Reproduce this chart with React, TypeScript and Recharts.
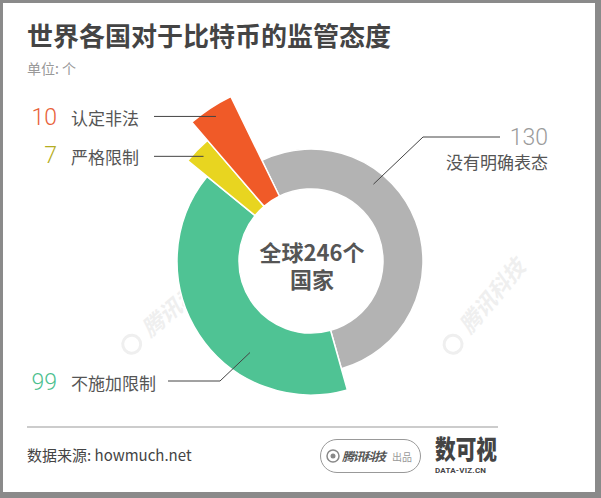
import React from 'react';
import { PieChart, Pie, Cell } from 'recharts';

// ---- data ----
const categories = ['没有明确表态', '不施加限制', '严格限制', '认定非法'];
const counts = [130, 99, 7, 10];
const totalLabel = ['全球246个', '国家'];
const title = '世界各国对于比特币的监管态度';
const unitLabel = '单位: 个';
const sourceLabel = '数据来源: howmuch.net';

const data = categories.map((name, i) => ({ name, value: counts[i] }));

// ---- styles ----
const sliceColors = ['#b3b3b3', '#4fc394', '#e8d520', '#f05a28'];
const numberColors = ['#9b9b9b', '#4dbf8f', '#b5ad22', '#e8613a'];
const outerRadii = [112, 134, 159, 183];
const CX = 311;
const CY = 261;
const INNER = 72;
const START = 116;
const CJK = '"Noto Sans CJK SC", "Noto Sans", sans-serif';
const NUM = 'Roboto, "Noto Sans", sans-serif';

// leader line layout per slice
const leaders: any[] = [
  { shift: 30, fromInner: true, r: 27, pts: [[423, 137], [500, 137]] },
  { shift: 23, fromInner: true, r: 38, pts: [[220, 381], [168, 381]] },
  { shift: 0, fromInner: false, r: 9, endX: 154 },
  { shift: 0, fromInner: false, r: 10, endX: 154 },
];

// label text layout per slice
const labelLayout = [
  { numX: 548, numY: 145, numAnchor: 'end', txtX: 548, txtY: 169, txtAnchor: 'end' },
  { numX: 57, numY: 390, numAnchor: 'end', txtX: 71, txtY: 390, txtAnchor: 'start' },
  { numX: 57, numY: 163, numAnchor: 'end', txtX: 71, txtY: 164, txtAnchor: 'start' },
  { numX: 57, numY: 125, numAnchor: 'end', txtX: 71, txtY: 124.5, txtAnchor: 'start' },
];

const makeLeader = (target: number) => (props: any) => {
  if (props.index !== target) return null;
  const { cx, cy, midAngle, innerRadius, outerRadius } = props;
  const L = leaders[target];
  const a = ((midAngle + L.shift) * Math.PI) / 180;
  const r = L.fromInner ? innerRadius + L.r : outerRadius - L.r;
  const x = cx + r * Math.cos(a);
  const y = cy - r * Math.sin(a);
  const pts = L.pts ? [[x, y], ...L.pts] : [[x, y], [L.endX, y]];
  return (
    <polyline
      key={`leader-${target}`}
      points={pts.map((p: number[]) => p.join(',')).join(' ')}
      fill="none"
      stroke="#444"
      strokeWidth={1}
    />
  );
};

export default function App() {
  return (
    <div style={{ position: 'relative', width: 601, height: 498, background: '#8a8a8a', overflow: 'hidden' }}>
      <style>{`body{margin:0}`}</style>
      <div style={{ position: 'absolute', left: 3, top: 3, width: 592, height: 489, background: '#ffffff' }} />
      <svg
        width={601}
        height={498}
        style={{ position: 'absolute', left: 0, top: 0, pointerEvents: 'none' }}
      >
        <g fill="#efefef" fontFamily={CJK} fontWeight={700} fontStyle="italic">
          <g transform="translate(150 338) rotate(-40)">
            <circle cx={-18} cy={-7} r={9} fill="none" stroke="#efefef" strokeWidth={3} />
            <text x={0} y={0} fontSize={22}>腾讯科技</text>
          </g>
          <g transform="translate(470 335) rotate(-50)">
            <circle cx={-18} cy={-7} r={9} fill="none" stroke="#efefef" strokeWidth={3} />
            <text x={0} y={0} fontSize={22}>腾讯科技</text>
          </g>
        </g>
      </svg>
      <div style={{ position: 'absolute', left: 0, top: 0 }}>
        <PieChart width={601} height={498} margin={{ top: 0, right: 0, bottom: 0, left: 0 }}>
          {data.map((_, target) => (
            <Pie
              key={target}
              data={data}
              dataKey="value"
              nameKey="name"
              cx={CX}
              cy={CY}
              innerRadius={INNER}
              outerRadius={outerRadii[target]}
              startAngle={START}
              endAngle={START - 360}
              isAnimationActive={false}
              labelLine={false}
              label={makeLeader(target)}
            >
              {data.map((d, i) => (
                <Cell
                  key={d.name}
                  fill={i === target ? sliceColors[i] : 'none'}
                  stroke={i === target ? '#ffffff' : 'none'}
                  strokeWidth={1.5}
                />
              ))}
            </Pie>
          ))}
        </PieChart>
      </div>
      <svg
        width={601}
        height={498}
        style={{ position: 'absolute', left: 0, top: 0, pointerEvents: 'none' }}
      >
        <text x={27} y={46} fontFamily={CJK} fontSize={26} fontWeight={700} fill="#444">
          {title}
        </text>
        <text x={27} y={74} fontFamily={CJK} fontSize={14} fill="#999">
          {unitLabel}
        </text>
        {data.map((d, i) => (
          <g key={d.name}>
            <text
              x={labelLayout[i].numX}
              y={labelLayout[i].numY}
              textAnchor={labelLayout[i].numAnchor as any}
              fontFamily={NUM}
              fontWeight={300}
              fontSize={23}
              fill={numberColors[i]}
            >
              {d.value}
            </text>
            <text
              x={labelLayout[i].txtX}
              y={labelLayout[i].txtY}
              textAnchor={labelLayout[i].txtAnchor as any}
              fontFamily={CJK}
              fontSize={17}
              fill="#555"
            >
              {d.name}
            </text>
          </g>
        ))}
        <text x={312} y={261} textAnchor="middle" fontFamily={CJK} fontSize={22} fontWeight={700} fill="#555">
          {totalLabel[0]}
        </text>
        <text x={312} y={287.5} textAnchor="middle" fontFamily={CJK} fontSize={22} fontWeight={700} fill="#555">
          {totalLabel[1]}
        </text>
        <line x1={27} y1={427} x2={498} y2={427} stroke="#cccccc" strokeWidth={2} />
        <text x={27} y={461} fontFamily={CJK} fontSize={15} fill="#444">
          {sourceLabel}
        </text>
        <rect x={320.5} y={439.5} width={100} height={33} rx={16.5} fill="none" stroke="#999" strokeWidth={1} />
        <circle cx={333} cy={456} r={6} fill="none" stroke="#888" strokeWidth={1.5} />
        <circle cx={333} cy={456} r={2.5} fill="#888" />
        <text x={342} y={460.5} fontFamily={CJK} fontSize={12} fontWeight={700} fontStyle="italic" fill="#555" textLength={44}>
          腾讯科技
        </text>
        <text x={392} y={460.5} fontFamily={CJK} fontSize={10} fill="#999">
          出品
        </text>
        <text x={435} y={459} fontFamily={CJK} fontSize={26} fontWeight={900} fill="#444" textLength={62} lengthAdjust="spacingAndGlyphs">
          数可视
        </text>
        <text x={435} y={473} fontFamily={NUM} fontSize={8} fontWeight={700} fill="#444" textLength={51}>
          DATA-VIZ.CN
        </text>
      </svg>
    </div>
  );
}
